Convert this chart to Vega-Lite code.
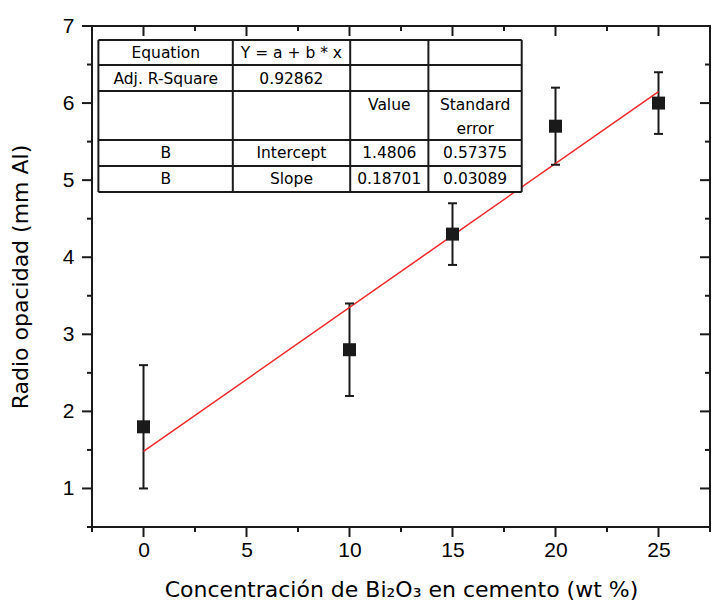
{
  "$schema": "https://vega.github.io/schema/vega-lite/v6.json",
  "width": 618,
  "height": 501,
  "autosize": {"type": "none"},
  "padding": {"left": 92, "top": 26, "right": 10, "bottom": 84},
  "background": "white",
  "config": {
    "view": {"stroke": "#1a1a1a", "strokeWidth": 2},
    "font": "Liberation Sans",
    "axis": {
      "grid": false,
      "domain": false,
      "ticks": false,
      "labelColor": "black",
      "labelFont": "Liberation Sans",
      "labelFontSize": 21,
      "labelFlush": false,
      "labelOverlap": false,
      "titleFont": "DejaVu Sans",
      "titleFontWeight": "normal",
      "titleColor": "black"
    }
  },
  "datasets": {
    "points": [
      {"conc": 0, "radio": 1.8, "lo": 1.0, "hi": 2.6},
      {"conc": 10, "radio": 2.8, "lo": 2.2, "hi": 3.4},
      {"conc": 15, "radio": 4.3, "lo": 3.9, "hi": 4.7},
      {"conc": 20, "radio": 5.7, "lo": 5.2, "hi": 6.2},
      {"conc": 25, "radio": 6.0, "lo": 5.6, "hi": 6.4}
    ],
    "fit": [
      {"conc": 0, "fit": 1.4806},
      {"conc": 25, "fit": 6.15}
    ],
    "xmajor": [{"v": 0}, {"v": 5}, {"v": 10}, {"v": 15}, {"v": 20}, {"v": 25}],
    "xminor": [{"v": -2.5}, {"v": 2.5}, {"v": 7.5}, {"v": 12.5}, {"v": 17.5}, {"v": 22.5}, {"v": 27.5}],
    "ymajor": [{"v": 1}, {"v": 2}, {"v": 3}, {"v": 4}, {"v": 5}, {"v": 6}, {"v": 7}],
    "yminor": [{"v": 0.5}, {"v": 1.5}, {"v": 2.5}, {"v": 3.5}, {"v": 4.5}, {"v": 5.5}, {"v": 6.5}],
    "box": [
      {"x1": -2.19, "x2": 18.36, "y1": 6.818, "y2": 4.846}
    ],
    "hlines": [
      {"x1": -2.19, "x2": 18.36, "y": 6.818},
      {"x1": -2.19, "x2": 18.36, "y": 6.494},
      {"x1": -2.19, "x2": 18.36, "y": 6.157},
      {"x1": -2.19, "x2": 18.36, "y": 5.521},
      {"x1": -2.19, "x2": 18.36, "y": 5.184},
      {"x1": -2.19, "x2": 18.36, "y": 4.846}
    ],
    "vlines": [
      {"x": -2.19, "y1": 6.818, "y2": 4.846},
      {"x": 4.335, "y1": 6.818, "y2": 4.846},
      {"x": 10.034, "y1": 6.818, "y2": 4.846},
      {"x": 13.83, "y1": 6.818, "y2": 4.846},
      {"x": 18.36, "y1": 6.818, "y2": 4.846}
    ],
    "cells": [
      {"cx": 1.08, "cy": 6.65, "label": "Equation"},
      {"cx": 7.18, "cy": 6.65, "label": "Y = a + b * x"},
      {"cx": 1.08, "cy": 6.31, "label": "Adj. R-Square"},
      {"cx": 7.18, "cy": 6.31, "label": "0.92862"},
      {"cx": 11.93, "cy": 5.975, "label": "Value"},
      {"cx": 16.1, "cy": 5.975, "label": "Standard"},
      {"cx": 16.1, "cy": 5.67, "label": "error"},
      {"cx": 1.08, "cy": 5.346, "label": "B"},
      {"cx": 7.18, "cy": 5.346, "label": "Intercept"},
      {"cx": 11.93, "cy": 5.346, "label": "1.4806"},
      {"cx": 16.1, "cy": 5.346, "label": "0.57375"},
      {"cx": 1.08, "cy": 5.021, "label": "B"},
      {"cx": 7.18, "cy": 5.021, "label": "Slope"},
      {"cx": 11.93, "cy": 5.021, "label": "0.18701"},
      {"cx": 16.1, "cy": 5.021, "label": "0.03089"}
    ]
  },
  "layer": [
    {
      "data": {"name": "points"},
      "mark": {"type": "rule", "color": "#1a1a1a", "strokeWidth": 2},
      "encoding": {
        "x": {
          "field": "conc", "type": "quantitative",
          "scale": {"domain": [-2.5, 27.5], "nice": false, "zero": false},
          "axis": {"orient": "bottom", "values": [0, 5, 10, 15, 20, 25], "labelPadding": 12,
                   "title": "Concentración de Bi₂O₃ en cemento (wt %)", "titleFontSize": 22, "titlePadding": 19}
        },
        "y": {
          "field": "lo", "type": "quantitative",
          "scale": {"domain": [0.5, 7], "nice": false, "zero": false},
          "axis": {"orient": "left", "values": [1, 2, 3, 4, 5, 6, 7], "labelPadding": 18,
                   "title": "Radio opacidad (mm Al)", "titleFontSize": 22, "titlePadding": 30}
        },
        "y2": {"field": "hi"}
      }
    },
    {
      "data": {"name": "fit"},
      "mark": {"type": "line", "color": "#f02828", "strokeWidth": 1.5},
      "encoding": {
        "x": {"field": "conc", "type": "quantitative", "axis": null},
        "y": {"field": "fit", "type": "quantitative", "axis": null}
      }
    },
    {
      "data": {"name": "box"},
      "mark": {"type": "rect", "fill": "white"},
      "encoding": {
        "x": {"field": "x1", "type": "quantitative", "axis": null},
        "x2": {"field": "x2"},
        "y": {"field": "y1", "type": "quantitative", "axis": null},
        "y2": {"field": "y2"}
      }
    },
    {
      "data": {"name": "hlines"},
      "mark": {"type": "rule", "color": "#1a1a1a", "strokeWidth": 2},
      "encoding": {
        "x": {"field": "x1", "type": "quantitative", "axis": null},
        "x2": {"field": "x2"},
        "y": {"field": "y", "type": "quantitative", "axis": null}
      }
    },
    {
      "data": {"name": "vlines"},
      "mark": {"type": "rule", "color": "#1a1a1a", "strokeWidth": 2},
      "encoding": {
        "x": {"field": "x", "type": "quantitative", "axis": null},
        "y": {"field": "y1", "type": "quantitative", "axis": null},
        "y2": {"field": "y2"}
      }
    },
    {
      "data": {"name": "cells"},
      "mark": {"type": "text", "font": "DejaVu Sans", "fontSize": 15.5, "color": "black", "align": "center", "baseline": "middle"},
      "encoding": {
        "x": {"field": "cx", "type": "quantitative", "axis": null},
        "y": {"field": "cy", "type": "quantitative", "axis": null},
        "text": {"field": "label"}
      }
    },
    {
      "data": {"name": "xmajor"},
      "mark": {"type": "tick", "orient": "vertical", "color": "#1a1a1a", "size": 10, "thickness": 2, "opacity": 1, "yOffset": 5},
      "encoding": {
        "x": {"field": "v", "type": "quantitative", "axis": null},
        "y": {"datum": 0.5, "type": "quantitative", "axis": null}
      }
    },
    {
      "data": {"name": "xminor"},
      "mark": {"type": "tick", "orient": "vertical", "color": "#1a1a1a", "size": 5, "thickness": 2, "opacity": 1, "yOffset": 2.5},
      "encoding": {
        "x": {"field": "v", "type": "quantitative", "axis": null},
        "y": {"datum": 0.5, "type": "quantitative", "axis": null}
      }
    },
    {
      "data": {"name": "xmajor"},
      "mark": {"type": "tick", "orient": "vertical", "color": "#1a1a1a", "size": 10, "thickness": 2, "opacity": 1, "yOffset": 5},
      "encoding": {
        "x": {"field": "v", "type": "quantitative", "axis": null},
        "y": {"datum": 7, "type": "quantitative", "axis": null}
      }
    },
    {
      "data": {"name": "xminor"},
      "mark": {"type": "tick", "orient": "vertical", "color": "#1a1a1a", "size": 5, "thickness": 2, "opacity": 1, "yOffset": 2.5},
      "encoding": {
        "x": {"field": "v", "type": "quantitative", "axis": null},
        "y": {"datum": 7, "type": "quantitative", "axis": null}
      }
    },
    {
      "data": {"name": "ymajor"},
      "mark": {"type": "tick", "orient": "horizontal", "color": "#1a1a1a", "size": 10, "thickness": 2, "opacity": 1, "xOffset": -5},
      "encoding": {
        "x": {"datum": -2.5, "type": "quantitative", "axis": null},
        "y": {"field": "v", "type": "quantitative", "axis": null}
      }
    },
    {
      "data": {"name": "yminor"},
      "mark": {"type": "tick", "orient": "horizontal", "color": "#1a1a1a", "size": 5, "thickness": 2, "opacity": 1, "xOffset": -2.5},
      "encoding": {
        "x": {"datum": -2.5, "type": "quantitative", "axis": null},
        "y": {"field": "v", "type": "quantitative", "axis": null}
      }
    },
    {
      "data": {"name": "ymajor"},
      "mark": {"type": "tick", "orient": "horizontal", "color": "#1a1a1a", "size": 10, "thickness": 2, "opacity": 1, "xOffset": -5},
      "encoding": {
        "x": {"datum": 27.5, "type": "quantitative", "axis": null},
        "y": {"field": "v", "type": "quantitative", "axis": null}
      }
    },
    {
      "data": {"name": "yminor"},
      "mark": {"type": "tick", "orient": "horizontal", "color": "#1a1a1a", "size": 5, "thickness": 2, "opacity": 1, "xOffset": -2.5},
      "encoding": {
        "x": {"datum": 27.5, "type": "quantitative", "axis": null},
        "y": {"field": "v", "type": "quantitative", "axis": null}
      }
    },
    {
      "data": {"name": "points"},
      "mark": {"type": "tick", "orient": "horizontal", "color": "#1a1a1a", "size": 9, "thickness": 2, "opacity": 1},
      "encoding": {
        "x": {"field": "conc", "type": "quantitative", "axis": null},
        "y": {"field": "lo", "type": "quantitative", "axis": null}
      }
    },
    {
      "data": {"name": "points"},
      "mark": {"type": "tick", "orient": "horizontal", "color": "#1a1a1a", "size": 9, "thickness": 2, "opacity": 1},
      "encoding": {
        "x": {"field": "conc", "type": "quantitative", "axis": null},
        "y": {"field": "hi", "type": "quantitative", "axis": null}
      }
    },
    {
      "data": {"name": "points"},
      "mark": {"type": "square", "color": "#1a1a1a", "filled": true, "opacity": 1, "size": 169},
      "encoding": {
        "x": {"field": "conc", "type": "quantitative", "axis": null},
        "y": {"field": "radio", "type": "quantitative", "axis": null}
      }
    }
  ],
  "resolve": {"axis": {"x": "independent", "y": "independent"}}
}
